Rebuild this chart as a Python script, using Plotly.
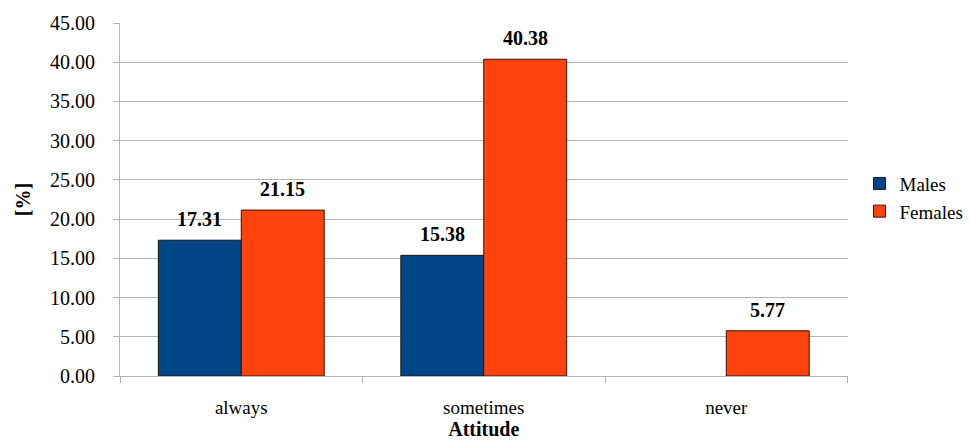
import plotly.graph_objects as go

categories = ["always", "sometimes", "never"]
males = [17.31, 15.38, None]
females = [21.15, 40.38, 5.77]
y_ticks = [0, 5, 10, 15, 20, 25, 30, 35, 40, 45]

FONT = "Liberation Serif"
MALE_COLOR = "#004586"
FEMALE_COLOR = "#FF420E"

fig = go.Figure()
fig.add_trace(go.Bar(
    name="Males", x=categories, y=males,
    marker=dict(color=MALE_COLOR, line=dict(color="#1a1a1a", width=1)),
))
fig.add_trace(go.Bar(
    name="Females", x=categories, y=females,
    marker=dict(color=FEMALE_COLOR, line=dict(color="#3a1005", width=1)),
))

# value labels above each bar
annotations = []
for series, shift in ((males, -41.5), (females, 41.5)):
    for cat, val in zip(categories, series):
        if val is None:
            continue
        annotations.append(dict(
            x=cat, y=val, xref="x", yref="y", xshift=shift, yshift=8,
            text=f"<b>{val:.2f}</b>", showarrow=False, yanchor="bottom",
            font=dict(family=FONT, size=20, color="#000"),
        ))

fig.update_layout(
    width=969, height=444,
    margin=dict(l=120, r=119, t=18, b=66),
    paper_bgcolor="white", plot_bgcolor="white",
    barmode="group", bargap=0.316, bargroupgap=0,
    font=dict(family=FONT, size=19, color="#000"),
    annotations=annotations,
    legend=dict(
        xref="container", yref="container",
        x=0.887, y=0.555, xanchor="left", yanchor="middle",
        font=dict(family=FONT, size=19, color="#000"),
        itemwidth=30, tracegroupgap=0, bgcolor="rgba(0,0,0,0)",
    ),
    xaxis=dict(
        showline=True, linecolor="#b3b3b3", linewidth=1,
        ticks="outside", tickson="boundaries", ticklen=6, tickcolor="#b3b3b3",
        ticklabelstandoff=14,
        title=dict(text="<b>Attitude</b>", font=dict(family=FONT, size=20), standoff=0),
        tickfont=dict(family=FONT, size=19),
    ),
    yaxis=dict(
        range=[0, 45], tickvals=y_ticks,
        ticktext=[f"{v:.2f}" for v in y_ticks],
        showgrid=True, gridcolor="#b3b3b3", gridwidth=1,
        showline=True, linecolor="#b3b3b3", linewidth=1,
        ticks="outside", ticklen=6, tickcolor="#b3b3b3",
        ticklabelstandoff=14,
        zeroline=False,
        title=dict(text="<b>[%]</b>", font=dict(family=FONT, size=20), standoff=14),
        tickfont=dict(family=FONT, size=20),
    ),
)

fig.write_html("out.html")
